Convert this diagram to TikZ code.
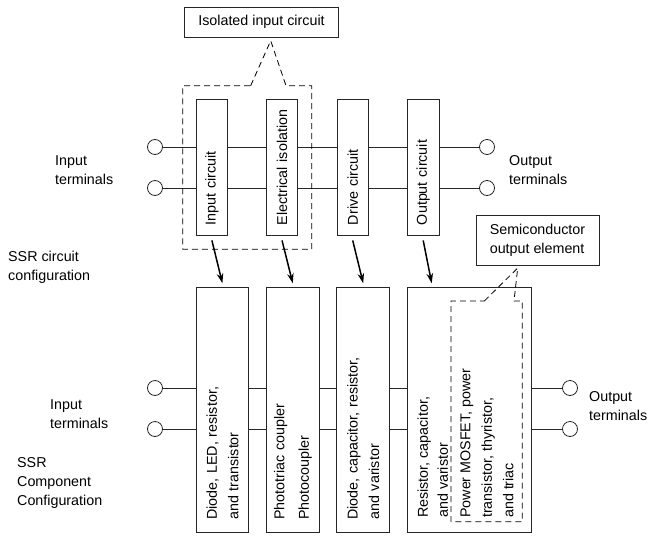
\documentclass[tikz,border=0pt]{standalone}
\usepackage{fontspec}
\setmainfont{Liberation Sans}
\usetikzlibrary{arrows.meta, positioning, calc, backgrounds}

\begin{document}
\begin{tikzpicture}[
        x=1pt, y=1pt,
        every node/.style={font=\fontsize{14.3}{19}\selectfont},
        upbox/.style={draw=black!85, fill=white, line width=0.8pt, rotate=90, minimum height=31.6, text width=116, inner xsep=10, inner ysep=0, align=left},
        lowbox/.style={draw=black!85, fill=white, line width=0.8pt, rotate=90, minimum height=52.7, text width=219, inner xsep=13, inner ysep=0, align=left, font=\fontsize{14.3}{21.5}\selectfont},
        term/.style={circle, draw=black!85, line width=0.8pt, minimum size=15, inner sep=0},
        callout/.style={draw=black!85, line width=0.8pt, align=left},
        plain/.style={align=left, inner sep=0, anchor=west},
        wire/.style={black!85, line width=0.8pt},
        region/.style={black, line width=0.8pt, dash pattern=on 6pt off 4pt},
        arrow/.style={-{Stealth[length=10pt, width=6.5pt]}, line width=1.5pt}
        ]
        \useasboundingbox (0,0) rectangle (648,-544);

        % circuit configuration
        \node[upbox] (inputckt) at (211.9,-167) {Input circuit};
        \node[upbox] (isolation) at (282,-167) {Electrical isolation};
        \node[upbox] (drive) at (352.7,-167) {Drive circuit};
        \node[upbox] (outputckt) at (423.2,-167) {Output circuit};

        \node[term] (inA) at (155,-147) {};
        \node[term] (inB) at (155,-188) {};
        \node[term] (outA) at (487,-147) {};
        \node[term] (outB) at (487,-188) {};

        \node[plain] (inlabel) at (55,-170) {Input\\terminals};
        \node[plain] (outlabel) at (509,-170) {Output\\terminals};
        \node[plain] (ckttitle) at (8,-267) {SSR circuit\\configuration};

        \node[callout, minimum width=154.4, minimum height=30] (isonote) at (261.5,-22.3) {Isolated input circuit};
        \coordinate (isotip) at ([xshift=9.2,yshift=-3]isonote.south);
        \draw[region] (250.7,-85.7) -- (isotip) -- (286,-85.7) -| (311.7,-249.3) -| (182.7,-85.7) -- cycle;

        % component configuration
        \node[lowbox] (inparts) at (222.4,-410.2) {Diode, LED, resistor,\\and transistor};
        \node[lowbox] (coupler) at (292.8,-410.2) {Phototriac coupler\\[3pt]Photocoupler};
        \node[lowbox] (driveparts) at (363.2,-410.2) {Diode, capacitor, resistor,\\and varistor};
        \node[lowbox, minimum height=123.7] (outparts) at (469.2,-410.2) {};
        \node[plain, rotate=90, font=\fontsize{14.3}{20}\selectfont] (passive) at (432.7,-518) {Resistor, capacitor,\\and varistor};
        \node[plain, rotate=90, font=\fontsize{14.3}{21.5}\selectfont] (switches) at (487,-518) {Power MOSFET, power\\transistor, thyristor,\\and triac};

        \node[term] (lowinA) at (155,-388) {};
        \node[term] (lowinB) at (155,-429) {};
        \node[term] (lowoutA) at (570,-388) {};
        \node[term] (lowoutB) at (570,-429) {};

        \node[plain] (lowinlabel) at (50,-414) {Input\\terminals};
        \node[plain] (lowoutlabel) at (589,-406) {Output\\terminals};
        \node[plain] (parttitle) at (17,-483) {SSR\\Component\\Configuration};

        \node[callout, minimum width=123, minimum height=50.7] (seminote) at (537.5,-240.3) {Semiconductor\\output element};
        \coordinate (semitip) at ([xshift=-19.8,yshift=-2]seminote.south);
        \draw[region] (484.3,-301) -- (semitip) -- (514,-301) -| (522.3,-521.7) -| (451,-301) -- cycle;

        % wires behind the boxes
        \begin{scope}[on background layer]
            \draw[wire] (inA) -- (outA);
            \draw[wire] (inB) -- (outB);
            \draw[wire] (lowinA) -- (lowoutA);
            \draw[wire] (lowinB) -- (lowoutB);
        \end{scope}

        \draw[arrow] ([yshift=-5]inputckt.west) -- ([yshift=4]inparts.east);
        \draw[arrow] ([yshift=-5]isolation.west) -- ([yshift=4]coupler.east);
        \draw[arrow] ([yshift=-5]drive.west) -- ([yshift=4]driveparts.east);
        \draw[arrow] ([yshift=-5]outputckt.west) -- ([xshift=-37.5,yshift=4]outparts.east);
    \end{tikzpicture}
\end{document}
